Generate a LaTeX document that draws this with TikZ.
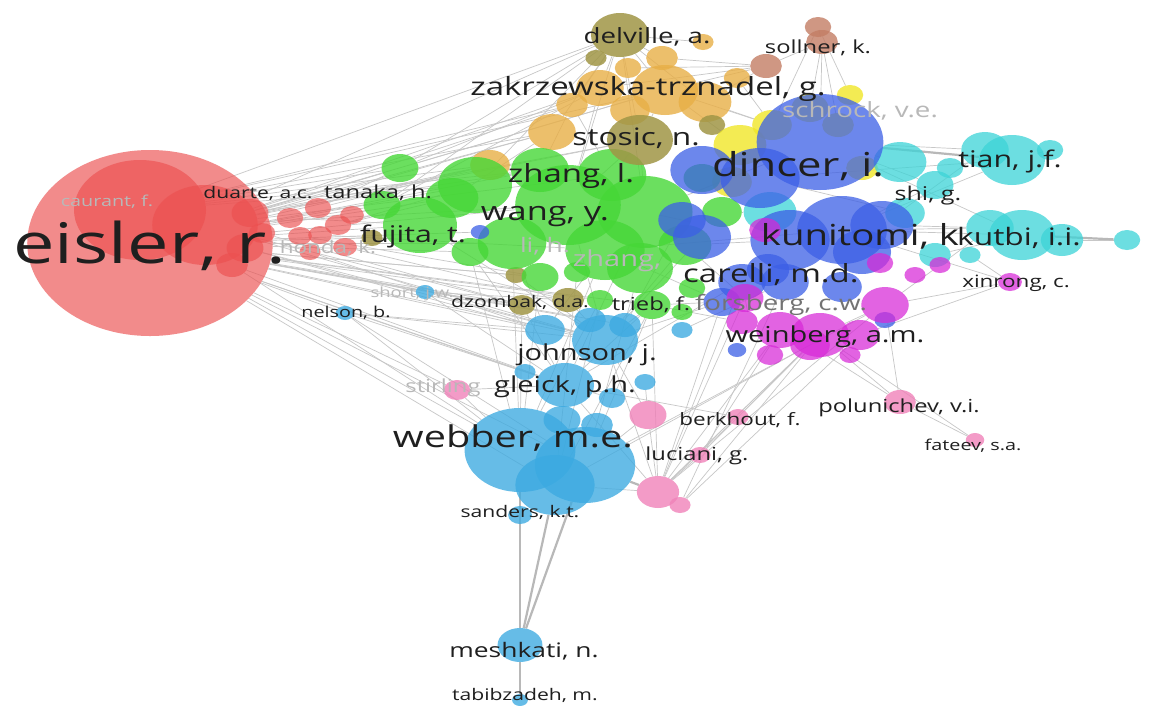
\documentclass[tikz,border=0pt]{standalone}
\usepackage{fontspec}
\setmainfont{Open Sans}
\usetikzlibrary{shapes.geometric}

\pgfdeclarelayer{bg}
\pgfdeclarelayer{links}
\pgfsetlayers{bg,links,main}

\definecolor{cR}{RGB}{236,80,80}
\definecolor{cG}{RGB}{70,215,55}
\definecolor{cU}{RGB}{60,95,230}
\definecolor{cC}{RGB}{60,212,215}
\definecolor{cM}{RGB}{215,40,215}
\definecolor{cK}{RGB}{60,170,225}
\definecolor{cP}{RGB}{240,130,185}
\definecolor{cO}{RGB}{232,175,70}
\definecolor{cL}{RGB}{160,150,70}
\definecolor{cY}{RGB}{240,230,40}
\definecolor{cB}{RGB}{195,125,100}

\newcommand{\vlab}[2]{\fontsize{#1}{#1}\selectfont\scalebox{1.32}[1]{#2}}

\tikzset{
  bub/.style={ellipse, inner sep=0pt, draw=none, minimum height=#1*2pt, minimum width=#1*2.64pt},
  lab/.style={anchor=base, inner sep=0pt, text=black!88},
  faint/.style={anchor=base, inner sep=0pt, text=black!28},
  link/.style={draw=black!22, line width=0.7pt},
  heavy/.style={draw=black!28, line width=2.2pt}
}

\begin{document}
\begin{tikzpicture}[x=1pt, y=-1pt]
        \begin{pgfonlayer}{bg}
        \fill[white] (0,0) rectangle (1172,705);
        \end{pgfonlayer}
        \useasboundingbox (0,0) rectangle (1172,705);

        % red
        \begin{scope}[every node/.style={fill=cR, fill opacity=0.66}]
        \node[bub=93] (eis) at (150,243) {};
        \node[bub=50] (ra) at (140,210) {};
        \node[bub=40] (rb) at (205,225) {};
        \node[bub=14] (rc) at (250,213) {};
        \node[bub=14] (rd) at (245,248) {};
        \node[bub=12] (re) at (232,265) {};
        \node[bub=10] (rf) at (290,218) {};
        \node[bub=9] (rg) at (300,236) {};
        \node[bub=10] (rh) at (318,208) {};
        \node[bub=9] (ri) at (320,235) {};
        \node[bub=10] (rj) at (338,225) {};
        \node[bub=9] (rk) at (352,215) {};
        \node[bub=9] (rl) at (345,247) {};
        \node[bub=10] (rm) at (262,233) {};
        \node[bub=8] (rn) at (310,252) {};
        \end{scope}

        % orange, olive, brown
        \begin{scope}[every node/.style={fill=cO, fill opacity=0.8}]
        \node[bub=25] (zak) at (665,90) {};
        \node[bub=18] (oa) at (600,88) {};
        \node[bub=20] (ob) at (705,102) {};
        \node[bub=18] (oc) at (552,132) {};
        \node[bub=12] (od) at (572,105) {};
        \node[bub=15] (oe) at (490,165) {};
        \node[bub=10] (of) at (628,68) {};
        \node[bub=12] (og) at (662,58) {};
        \node[bub=8] (oh) at (703,42) {};
        \node[bub=10] (oi) at (737,78) {};
        \node[bub=15] (oj) at (630,110) {};
        \end{scope}
        \begin{scope}[every node/.style={fill=cL, fill opacity=0.85}]
        \node[bub=22] (del) at (620,35) {};
        \node[bub=8] (la) at (596,58) {};
        \node[bub=10] (lb) at (712,125) {};
        \node[bub=12] (lc) at (568,300) {};
        \node[bub=8] (ld) at (516,275) {};
        \node[bub=8] (le) at (372,238) {};
        \node[bub=10] (dzo) at (522,305) {};
        \end{scope}
        \begin{scope}[every node/.style={fill=cB, fill opacity=0.8}]
        \node[bub=12] (sol) at (822,42) {};
        \node[bub=10] (ba) at (818,27) {};
        \node[bub=12] (bb) at (766,66) {};
        \end{scope}

        % yellow
        \begin{scope}[every node/.style={fill=cY, fill opacity=0.8}]
        \node[bub=20] (ya) at (740,145) {};
        \node[bub=15] (yb) at (772,125) {};
        \node[bub=14] (yc) at (810,108) {};
        \node[bub=10] (yd) at (850,95) {};
        \node[bub=12] (ye) at (838,125) {};
        \node[bub=12] (yf) at (862,168) {};
        \node[bub=15] (yg) at (732,182) {};
        \end{scope}

        % green
        \begin{scope}[every node/.style={fill=cG, fill opacity=0.8}]
        \node[bub=36] (gc) at (645,212) {};
        \node[bub=30] (ge) at (605,250) {};
        \node[bub=25] (gf) at (640,268) {};
        \node[bub=26] (gg) at (612,175) {};
        \node[bub=20] (gh) at (685,245) {};
        \node[bub=40] (wang) at (568,205) {};
        \node[bub=28] (ga) at (475,185) {};
        \node[bub=28] (gb) at (420,225) {};
        \node[bub=26] (gd) at (512,243) {};
        \node[bub=22] (gt) at (540,170) {};
        \node[bub=14] (gi) at (400,168) {};
        \node[bub=20] (gj) at (452,198) {};
        \node[bub=14] (gk) at (382,205) {};
        \node[bub=14] (gl) at (470,252) {};
        \node[bub=14] (gm) at (540,277) {};
        \node[bub=10] (gn) at (577,272) {};
        \node[bub=14] (trb) at (652,305) {};
        \node[bub=14] (gp) at (702,178) {};
        \node[bub=15] (gq) at (722,212) {};
        \node[bub=10] (gr) at (692,288) {};
        \node[bub=8] (gs) at (682,312) {};
        \node[bub=10] (gu) at (600,300) {};
        \end{scope}
        \begin{scope}[every node/.style={fill=cL, fill opacity=0.85}]
        \node[bub=25] (sto) at (640,140) {};
        \end{scope}

        % cyan
        \begin{scope}[every node/.style={fill=cC, fill opacity=0.75}]
        \node[bub=20] (cg) at (900,162) {};
        \node[bub=20] (cj) at (770,212) {};
        \node[bub=15] (ck) at (905,213) {};
        \node[bub=25] (tia) at (1012,160) {};
        \node[bub=18] (ca) at (985,150) {};
        \node[bub=10] (cb) at (1050,150) {};
        \node[bub=25] (kut) at (1022,235) {};
        \node[bub=18] (cc) at (990,228) {};
        \node[bub=16] (cd) at (1062,240) {};
        \node[bub=10] (ce) at (1127,240) {};
        \node[bub=14] (shi) at (935,185) {};
        \node[bub=10] (cf) at (950,168) {};
        \node[bub=12] (ch) at (935,255) {};
        \node[bub=8] (ci) at (970,255) {};
        \end{scope}

        % blue
        \begin{scope}[every node/.style={fill=cU, fill opacity=0.75}]
        \node[bub=48] (din) at (820,142) {};
        \node[bub=24] (ua) at (702,170) {};
        \node[bub=30] (ub) at (760,178) {};
        \node[bub=34] (kun) at (842,230) {};
        \node[bub=30] (uc) at (790,240) {};
        \node[bub=24] (ud) at (882,225) {};
        \node[bub=22] (ue) at (862,252) {};
        \node[bub=22] (uf) at (702,237) {};
        \node[bub=18] (ug) at (682,220) {};
        \node[bub=16] (car) at (768,270) {};
        \node[bub=18] (uh) at (742,282) {};
        \node[bub=14] (ui) at (722,302) {};
        \node[bub=18] (uj) at (785,282) {};
        \node[bub=15] (uk) at (842,287) {};
        \node[bub=7] (ul) at (480,232) {};
        \node[bub=7] (um) at (737,350) {};
        \node[bub=8] (un) at (885,320) {};
        \end{scope}

        % magenta
        \begin{scope}[every node/.style={fill=cM, fill opacity=0.72}]
        \node[bub=22] (wei) at (820,335) {};
        \node[bub=18] (ma) at (780,330) {};
        \node[bub=15] (mb) at (860,335) {};
        \node[bub=18] (mc) at (885,305) {};
        \node[bub=10] (md) at (770,355) {};
        \node[bub=8] (me) at (850,355) {};
        \node[bub=15] (mf) at (810,345) {};
        \node[bub=14] (mg) at (745,298) {};
        \node[bub=12] (mh) at (742,322) {};
        \node[bub=9] (xin) at (1010,282) {};
        \node[bub=8] (mi) at (940,265) {};
        \node[bub=8] (mj) at (915,275) {};
        \node[bub=10] (mk) at (880,263) {};
        \node[bub=12] (ml) at (765,230) {};
        \end{scope}

        % sky blue
        \begin{scope}[every node/.style={fill=cK, fill opacity=0.78}]
        \node[bub=42] (web) at (520,450) {};
        \node[bub=38] (ka) at (585,465) {};
        \node[bub=30] (kb) at (555,485) {};
        \node[bub=14] (kk) at (562,420) {};
        \node[bub=22] (gle) at (565,385) {};
        \node[bub=10] (kc) at (612,398) {};
        \node[bub=25] (joh) at (605,340) {};
        \node[bub=15] (kd) at (545,330) {};
        \node[bub=12] (ke) at (590,320) {};
        \node[bub=12] (kf) at (625,325) {};
        \node[bub=8] (kg) at (645,382) {};
        \node[bub=8] (kh) at (682,330) {};
        \node[bub=8] (ki) at (525,372) {};
        \node[bub=12] (kj) at (597,425) {};
        \node[bub=9] (san) at (520,515) {};
        \node[bub=17] (mes) at (520,645) {};
        \node[bub=6] (tab) at (520,700) {};
        \node[bub=7] (nel) at (345,313) {};
        \node[bub=7] (sho) at (425,292) {};
        \end{scope}

        % pink
        \begin{scope}[every node/.style={fill=cP, fill opacity=0.8}]
        \node[bub=10] (sti) at (457,390) {};
        \node[bub=14] (pa) at (648,415) {};
        \node[bub=16] (pb) at (658,492) {};
        \node[bub=8] (pc) at (680,505) {};
        \node[bub=8] (luc) at (700,455) {};
        \node[bub=8] (ber) at (738,417) {};
        \node[bub=12] (pol) at (900,402) {};
        \node[bub=7] (fat) at (975,440) {};
        \end{scope}

        \begin{pgfonlayer}{links}
        \foreach \a/\b in {eis/gi, eis/gk, eis/gb, eis/ga, eis/gj, eis/wang, eis/gd, eis/gl, eis/gt, eis/oe,
            eis/oc, eis/joh, eis/gle, eis/kd, eis/web, eis/ki, eis/kb, eis/sho, eis/nel, eis/ul, eis/le, eis/ld,
            eis/lc, eis/dzo, eis/gm, eis/trb, eis/ke, eis/kf, eis/gu, eis/ka, eis/sti, eis/del, eis/od,
            ra/gi, ra/oe, ra/del, ra/oc, ra/od, ra/zak, ra/ga, ra/gt, rb/gi, rb/oe, rb/zak, rb/sto, rb/gg,
            rb/wang, rb/oa, rb/joh, rb/dzo, rc/sto, rc/gt, rc/oc, rd/joh, rd/kd, re/gle, re/web, rf/gb, rh/gi,
            rk/gk, rj/ga, rl/lc, rm/dzo, rn/kd, rg/gm, ri/ge, rh/oe, rj/gj,
            nel/web, nel/gle, nel/kd, nel/joh, nel/ka, sho/joh, sho/lc, sho/dzo, sho/gle,
            ga/del, gi/zak, gi/oa, gj/oc, gt/od, gk/del, gb/joh, gd/web, wang/joh, gc/gle, ge/kd, gf/ka,
            gh/joh, gl/gle, gm/web, trb/joh, trb/gle, trb/ka, gu/kb, wang/sto, gc/din, ge/kun, gh/uc, gq/cj,
            gp/ya, gg/sto, gc/ug, gh/mg, ge/ui, trb/ui, trb/mh, gi/del, gk/oa, gd/kd, gl/web, gn/kb,
            del/oa, del/zak, del/sto, del/od, del/oc, del/ob, del/oh, del/og, zak/sto, zak/ya, zak/yb, oi/yb,
            ob/yb, oa/wang, oc/gt, od/gg, sto/gc, lc/joh, lc/kd, dzo/gle, dzo/web, ld/joh, del/wang, del/gc,
            sol/bb, sol/ba, sol/yc, sol/ye, ba/yd, bb/oa, bb/zak, bb/ob, bb/of, bb/og, sol/din, ba/yb,
            din/ca, din/kut, din/cg, din/shi, kun/kut, kun/tia, kun/shi, kun/cc, ud/cc, ud/ca, ub/ck, cc/mi,
            tia/cb, cd/ce, ch/kut, ci/xin, xin/mc, xin/kun, xin/mb, mi/mc, wei/mc, mg/uh, ub/tia,
            pb/wei, pb/ma, pb/mf, pb/uh, pb/gle, pb/kb, pb/joh, pb/pa, pb/luc, pb/mc, pb/mg, pb/ber, pc/wei,
            pc/mb, pol/fat, pol/wei, pol/mf, pol/mc, fat/wei, pa/joh, pa/kg, luc/ma, ber/wei, ber/gle,
            sti/web, sti/gle, pa/ka, pb/ui, joh/uf, gle/uh, joh/ui, kf/ug, kh/uj, gle/kc, joh/kd,
            pb/trb, pc/uj, luc/wei, kb/mf, ka/mc, web/gu, web/ge, kb/trb}
            \path[link] (\a) edge (\b);
        \foreach \a/\b in {din/tia, kut/ce, web/mes, web/san, kb/mes, ka/mes, mes/tab, pb/ka}
            \path[heavy] (\a) edge (\b);
        \end{pgfonlayer}

        % labels
        \node[faint] (l-cau) at (107,206) {\vlab{15}{caurant, f.}};
        \node[faint] (l-hon) at (328,253) {\vlab{17}{honda, k.}};
        \node[faint] (l-lih) at (545,252) {\vlab{20}{li, h.}};
        \node[faint] (l-zhf) at (617,266) {\vlab{22}{zhang,}};
        \node[faint] (l-sch) at (860,117) {\vlab{21}{schrock, v.e.}};
        \node[faint] (l-sti) at (443,392) {\vlab{18}{stirling}};
        \node[faint] (l-sho) at (412,297) {\vlab{14}{short, j.w.}};
        \node[lab] (l-eis) at (150,263) {\vlab{56}{eisler, r.}};
        \node[lab] (l-dua) at (258,198) {\vlab{16}{duarte, a.c.}};
        \node[lab] (l-tan) at (378,198) {\vlab{18}{tanaka, h.}};
        \node[lab] (l-fuj) at (413,242) {\vlab{23}{fujita, t.}};
        \node[lab] (l-wan) at (545,220) {\vlab{26}{wang, y.}};
        \node[lab] (l-zhl) at (571,182) {\vlab{25}{zhang, l.}};
        \node[lab] (l-del) at (647,43) {\vlab{21}{delville, a.}};
        \node[lab] (l-sol) at (818,53) {\vlab{18}{sollner, k.}};
        \node[lab] (l-zak) at (648,95) {\vlab{25}{zakrzewska-trznadel, g.}};
        \node[lab] (l-sto) at (636,145) {\vlab{24}{stosic, n.}};
        \node[lab] (l-din) at (798,176) {\vlab{33}{dincer, i.}};
        \node[lab] (l-tia) at (1010,167) {\vlab{23}{tian, j.f.}};
        \node[lab] (l-shi) at (928,200) {\vlab{19}{shi, g.}};
        \node[lab] (l-kun) at (860,245) {\vlab{29}{kunitomi, k}};
        \node[lab] (l-kut) at (1019,245) {\vlab{24}{kutbi, i.i.}};
        \node[lab] (l-car) at (771,282) {\vlab{25}{carelli, m.d.}};
        \node[lab] (l-xin) at (1016,287) {\vlab{17}{xinrong, c.}};
        \node[lab] (l-tri) at (651,310) {\vlab{18}{trieb, f.}};
        \node[lab, text=black!55] (l-for) at (781,310) {\vlab{21}{forsberg, c.w.}};
        \node[lab] (l-wei) at (825,342) {\vlab{22}{weinberg, a.m.}};
        \node[lab] (l-pol) at (899,412) {\vlab{18}{polunichev, v.i.}};
        \node[lab] (l-ber) at (740,425) {\vlab{17}{berkhout, f.}};
        \node[lab] (l-fat) at (973,450) {\vlab{15}{fateev, s.a.}};
        \node[lab] (l-luc) at (697,460) {\vlab{18}{luciani, g.}};
        \node[lab] (l-joh) at (587,360) {\vlab{22}{johnson, j.}};
        \node[lab] (l-gle) at (565,392) {\vlab{22}{gleick, p.h.}};
        \node[lab] (l-web) at (513,447) {\vlab{30}{webber, m.e.}};
        \node[lab] (l-san) at (520,517) {\vlab{16}{sanders, k.t.}};
        \node[lab] (l-mes) at (524,657) {\vlab{20}{meshkati, n.}};
        \node[lab] (l-tab) at (525,700) {\vlab{16}{tabibzadeh, m.}};
        \node[lab] (l-nel) at (346,317) {\vlab{15}{nelson, b.}};
        \node[lab] (l-dzo) at (520,307) {\vlab{16}{dzombak, d.a.}};
    \end{tikzpicture}
\end{document}
